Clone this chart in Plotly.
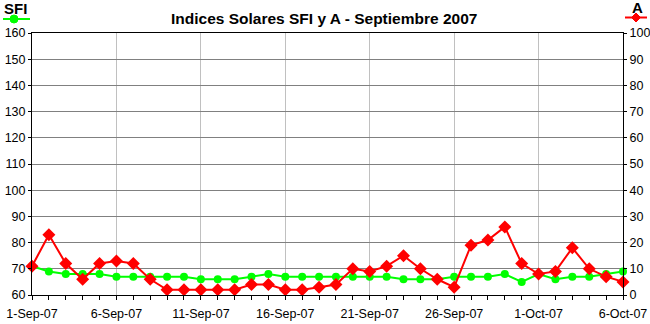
import plotly.graph_objects as go
import pandas as pd

dates = pd.date_range("2007-09-01", "2007-10-06", freq="D").strftime("%Y-%m-%d").tolist()
sfi = [71, 69, 68, 68, 68, 67, 67, 67, 67, 67, 66, 66, 66, 67, 68, 67, 67, 67,
       67, 67, 67, 67, 66, 66, 66, 67, 67, 67, 68, 65, 68, 66, 67, 67, 68, 69]
a_index = [11, 23, 12, 6, 12, 13, 12, 6, 2, 2, 2, 2, 2, 4, 4, 2, 2, 3,
           4, 10, 9, 11, 15, 10, 6, 3, 19, 21, 26, 12, 8, 9, 18, 10, 7, 5]

title_text = "Indices Solares SFI y A - Septiembre 2007"
GREEN = "#00ff00"
RED = "#ff0000"
FONT = "Liberation Sans, Arial, sans-serif"

W, H = 650, 324
ML, MR, MT, MB = 32, 27, 33, 29
PW, PH = W - ML - MR, H - MT - MB

def px(x):
    return (x - ML) / PW

def py(y):
    return (H - MB - y) / PH

fig = go.Figure()
fig.add_trace(go.Scatter(
    x=dates, y=sfi, name="SFI", mode="lines+markers",
    line=dict(color=GREEN, width=2),
    marker=dict(symbol="circle", size=8, color=GREEN),
    cliponaxis=False, yaxis="y"))
fig.add_trace(go.Scatter(
    x=dates, y=a_index, name="A", mode="lines+markers",
    line=dict(color=RED, width=2),
    marker=dict(symbol="diamond", size=10, color=RED),
    cliponaxis=False, yaxis="y2"))

shapes = [
    dict(type="line", xref="paper", yref="paper", x0=px(3), x1=px(30), y0=py(19), y1=py(19),
         line=dict(color=GREEN, width=2)),
    dict(type="circle", xref="paper", yref="paper", x0=px(10), x1=px(18), y0=py(15), y1=py(23),
         fillcolor=GREEN, line=dict(color=GREEN, width=1)),
    dict(type="line", xref="paper", yref="paper", x0=px(625), x1=px(647), y0=py(17.5), y1=py(17.5),
         line=dict(color=RED, width=2)),
    dict(type="path", xref="paper", yref="paper",
         path=f"M {px(636)} {py(13)} L {px(640.5)} {py(17.5)} L {px(636)} {py(22)} L {px(631.5)} {py(17.5)} Z",
         fillcolor=RED, line=dict(color=RED, width=1)),
]

annotations = [
    dict(text=f"<b>{title_text}</b>", xref="paper", yref="paper", x=px(324), y=py(18.5),
         xanchor="center", yanchor="middle", showarrow=False,
         font=dict(family=FONT, size=15.5, color="black")),
    dict(text="<b>SFI</b>", xref="paper", yref="paper", x=px(15), y=py(8.5),
         xanchor="center", yanchor="middle", showarrow=False,
         font=dict(family=FONT, size=15, color="black")),
    dict(text="<b>A</b>", xref="paper", yref="paper", x=px(637), y=py(7.5),
         xanchor="center", yanchor="middle", showarrow=False,
         font=dict(family=FONT, size=15, color="black")),
]

fig.update_layout(
    width=W, height=H, autosize=False,
    margin=dict(l=ML, r=MR, t=MT, b=MB, pad=0),
    paper_bgcolor="white", plot_bgcolor="white",
    showlegend=False,
    font=dict(family=FONT, size=12, color="black"),
    shapes=shapes, annotations=annotations,
    xaxis=dict(
        type="date", range=[dates[0], dates[-1]], automargin=False,
        tick0=dates[0], dtick=5 * 86400000, tickformat="%-d-%b-%y",
        showgrid=True, gridcolor="#c0c0c0", gridwidth=1,
        showline=True, linecolor="black", linewidth=1, mirror=True,
        ticks="outside", ticklen=4, tickcolor="black",
        minor=dict(dtick=86400000, tick0=dates[0], ticks="outside", ticklen=4, tickcolor="black", showgrid=False),
        zeroline=False, tickfont=dict(size=12.5), ticklabelstandoff=3,
    ),
    yaxis=dict(
        range=[60, 160], dtick=10, tick0=60, automargin=False,
        showgrid=True, gridcolor="#808080", gridwidth=1,
        showline=True, linecolor="black", linewidth=1,
        ticks="outside", ticklen=3, tickcolor="black",
        zeroline=False, tickfont=dict(size=12.5),
    ),
    yaxis2=dict(
        range=[0, 100], dtick=10, tick0=0, overlaying="y", side="right", automargin=False,
        showgrid=False,
        showline=True, linecolor="black", linewidth=1,
        ticks="outside", ticklen=3, tickcolor="black",
        zeroline=False, tickfont=dict(size=12.5),
    ),
)

fig.write_html("out.html")
